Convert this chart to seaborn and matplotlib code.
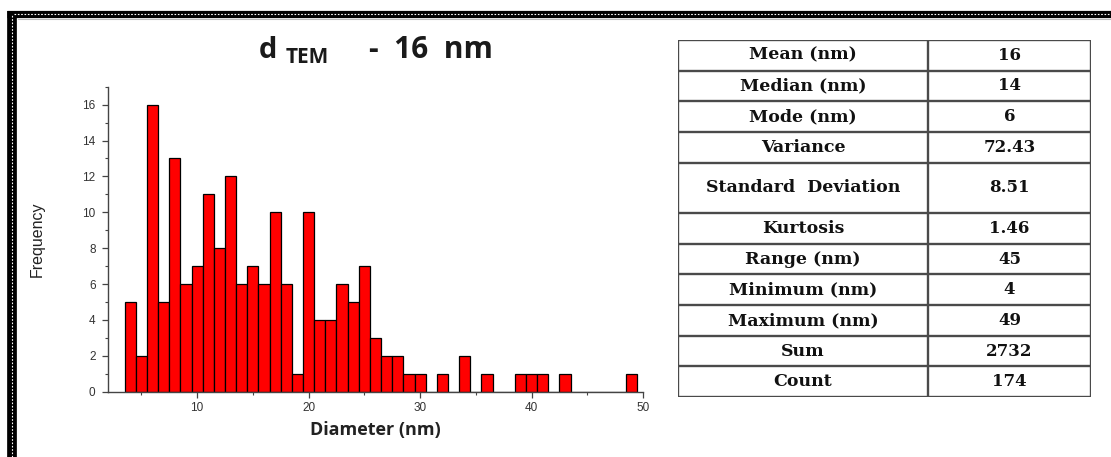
import numpy as np
import pandas as pd
import matplotlib
matplotlib.use("Agg")
import matplotlib.pyplot as plt
from matplotlib.lines import Line2D
from matplotlib.ticker import MultipleLocator
import seaborn as sns

# ---------------------------------------------
# Data
# ---------------------------------------------
diameters = [4, 5, 6, 7, 8, 9, 10, 11, 12, 13, 14, 15, 16, 17, 18, 19, 20,
             21, 22, 23, 24, 25, 26, 27, 28, 29, 30, 32, 34, 36, 39, 40, 41,
             43, 49]
counts = [5, 2, 16, 5, 13, 6, 7, 11, 8, 12, 6, 7, 6, 10, 6, 1, 10,
          4, 4, 6, 5, 7, 3, 2, 2, 1, 1, 1, 2, 1, 1, 1, 1,
          1, 1]

stat_names = ["Mean (nm)", "Median (nm)", "Mode (nm)", "Variance",
              "Standard  Deviation", "Kurtosis", "Range (nm)",
              "Minimum (nm)", "Maximum (nm)", "Sum", "Count"]
stat_values = ["16", "14", "6", "72.43", "8.51", "1.46", "45", "4", "49",
               "2732", "174"]
row_heights = [1, 1, 1, 1, 1.65, 1, 1, 1, 1, 1, 1]

df = pd.DataFrame({"diameter": diameters, "count": counts})

# ---------------------------------------------
# Style
# ---------------------------------------------
sns.set_theme(style="ticks")
plt.rcParams["font.family"] = ["Liberation Sans", "DejaVu Sans"]

W, H = 1111, 457
fig = plt.figure(figsize=(W / 100, H / 100), dpi=100)
fig.patch.set_facecolor("white")


def px(x, y):
    """pixel position -> figure fraction"""
    return x / W, 1 - y / H


# ---------------------------------------------
# Histogram
# ---------------------------------------------
ax = fig.add_axes([108 / W, 1 - 391.7 / H, (643 - 108) / W, (391.7 - 86.7) / H])
sns.histplot(data=df, x="diameter", weights="count", discrete=True,
             color="#ff0000", edgecolor="black", linewidth=0.9, alpha=1,
             ax=ax)
ax.set_xlim(2, 50)
ax.set_ylim(0, 17)
ax.xaxis.set_major_locator(MultipleLocator(10))
ax.xaxis.set_minor_locator(MultipleLocator(5))
ax.yaxis.set_major_locator(MultipleLocator(2))
ax.yaxis.set_minor_locator(MultipleLocator(1))
ax.tick_params(axis="both", which="major", direction="out", length=4,
               width=0.9, color="#444444", labelsize=8.5, labelcolor="#333333")
ax.tick_params(axis="y", which="major", pad=5)
ax.tick_params(axis="x", which="major", pad=3.5)
ax.tick_params(axis="both", which="minor", direction="out", length=2.5,
               width=0.8, color="#444444")
for side in ["top", "right"]:
    ax.spines[side].set_visible(False)
for side in ["left", "bottom"]:
    ax.spines[side].set_color("#444444")
    ax.spines[side].set_linewidth(1.0)
ax.set_xlabel("Diameter (nm)", fontsize=13, fontweight="bold",
              family="Open Sans", color="#222222", labelpad=5)
ax.set_ylabel("Frequency", fontsize=11.5, color="#222222", labelpad=27)
ax.patch.set_alpha(0)

# title: d with TEM subscript, then "- 16 nm"
title_kw = dict(family="Open Sans", fontweight="bold", color="#1a1a1a",
                va="baseline", ha="left")
fig.text(*px(259, 58), "d", fontsize=21, **title_kw)
fig.text(*px(286, 63), "TEM", fontsize=15, **title_kw)
fig.text(*px(369, 58), "-  16  nm", fontsize=21.5, **title_kw)

# ---------------------------------------------
# Statistics table
# ---------------------------------------------
tx0, tx1, tsplit = 678, 1091, 928
ty0, ty1 = 40, 397
tab = fig.add_axes([tx0 / W, 1 - ty1 / H, (tx1 - tx0) / W, (ty1 - ty0) / H])
total = sum(row_heights)
tab.set_xlim(0, 1)
tab.set_ylim(total, 0)
tab.axis("off")
split = (tsplit - tx0) / (tx1 - tx0)
line_kw = dict(color="#4a4a4a", lw=1.7, solid_capstyle="projecting")
edges = np.concatenate([[0], np.cumsum(row_heights)])
for e in edges:
    tab.plot([0, 1], [e, e], **line_kw)
for xv in [0, split, 1]:
    tab.plot([xv, xv], [0, total], **line_kw)
for i, (name, val) in enumerate(zip(stat_names, stat_values)):
    yc = (edges[i] + edges[i + 1]) / 2
    tab.text(split / 2, yc, name, ha="center", va="center",
             family="DejaVu Serif", fontweight="bold", fontsize=12.5,
             color="#111111")
    tab.text((split + 1) / 2, yc, val, ha="center", va="center",
             family="DejaVu Serif", fontweight="bold", fontsize=12,
             color="#111111")

# ---------------------------------------------
# Outer frame (top and left only)
# ---------------------------------------------
bx, by = 12 / W, 1 - 14 / H
frame = dict(transform=fig.transFigure, solid_capstyle="butt")
fig.add_artist(Line2D([7 / W, 1], [by, by], color="black", lw=5.2, **frame))
fig.add_artist(Line2D([bx, bx], [0, 1 - 10.5 / H], color="black", lw=7.0,
                      **frame))
fig.add_artist(Line2D([14 / W, 1], [by, by], color="white", lw=0.8,
                      ls=(0, (1.5, 1.5)), transform=fig.transFigure))
fig.add_artist(Line2D([bx, bx], [0, 1 - 14 / H], color="white", lw=0.8,
                      ls=(0, (1.5, 1.5)), transform=fig.transFigure))
fig.add_artist(Line2D([18 / W, 1], [1 - 19 / H, 1 - 19 / H],
                      transform=fig.transFigure, color="#bbbbbb", lw=0.8))

fig.savefig("out.png", dpi=100, facecolor="white")
